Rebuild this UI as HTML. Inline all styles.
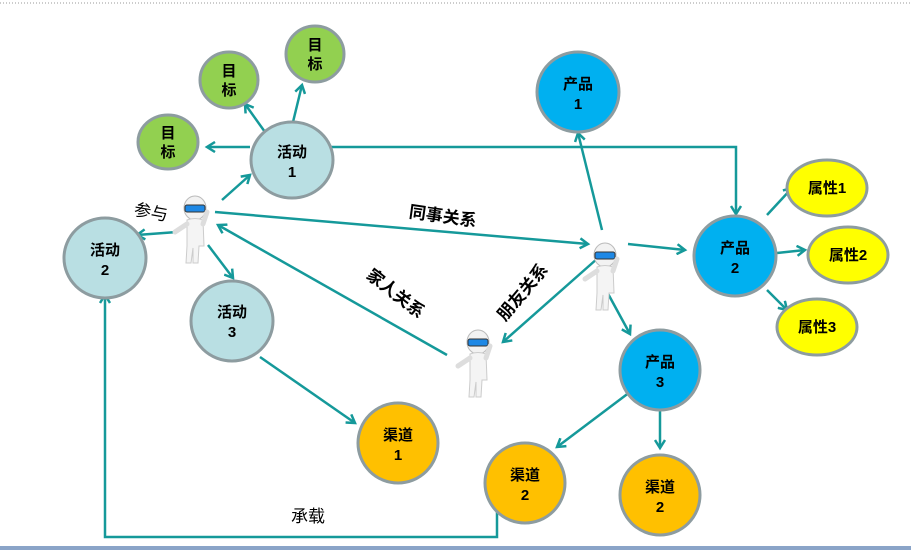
<!DOCTYPE html>
<html><head><meta charset="utf-8"><style>
body{margin:0;background:#fff;}
svg{display:block;font-family:"Liberation Sans","Noto Sans CJK SC",sans-serif;}
</style></head><body>
<svg width="911" height="550" viewBox="0 0 911 550">
<defs>
<marker id="a" markerWidth="12" markerHeight="12" refX="9" refY="6" orient="auto" markerUnits="userSpaceOnUse">
<path d="M1,1 L9,6 L1,11" fill="none" stroke="#15999a" stroke-width="2.5"/>
</marker>
<g id="p">
<ellipse cx="0" cy="0" rx="11" ry="12" fill="#f2f2f2" stroke="#bbb"/>
<rect x="-10" y="-3" width="20" height="7" rx="2" fill="#1e88e5" stroke="#333" stroke-width="1"/>
<path d="M-8,12 Q0,9 8,12 L9,38 L4,38 L3,55 L-2,55 L-2,40 L-4,55 L-9,55 L-8,38 Z" fill="#f4f4f4" stroke="#ccc"/>
<path d="M-8,16 L-20,24 M8,16 L12,4" stroke="#ddd" stroke-width="5" stroke-linecap="round"/>
</g>
</defs>
<line x1="0" y1="3" x2="911" y2="3" stroke="#999" stroke-dasharray="1,2"/>
<rect x="0" y="546" width="911" height="4" fill="#8aa4c8"/>
<g stroke="#15999a" stroke-width="2.5" fill="none" marker-end="url(#a)">
<line x1="250" y1="147" x2="207" y2="147"/>
<line x1="265" y1="132" x2="245" y2="104"/>
<line x1="293" y1="122" x2="302" y2="85"/>
<polyline points="330,147 736,147 736,214"/>
<line x1="222" y1="200" x2="250" y2="175"/>
<line x1="177" y1="232" x2="137" y2="235"/>
<line x1="208" y1="245" x2="233" y2="278"/>
<line x1="215" y1="212" x2="588" y2="244"/>
<line x1="447" y1="355" x2="218" y2="225"/>
<line x1="598" y1="258" x2="503" y2="342"/>
<line x1="602" y1="230" x2="578" y2="133"/>
<line x1="628" y1="244" x2="685" y2="250"/>
<line x1="606" y1="290" x2="630" y2="334"/>
<line x1="767" y1="215" x2="792" y2="188"/>
<line x1="777" y1="253" x2="805" y2="250"/>
<line x1="767" y1="290" x2="787" y2="310"/>
<line x1="260" y1="357" x2="355" y2="423"/>
<line x1="630" y1="392" x2="557" y2="447"/>
<line x1="660" y1="400" x2="660" y2="448"/>
<polyline points="497,505 497,537 105,537 105,295"/>
</g>
<g stroke="#8d9ca0" stroke-width="3">
<ellipse cx="168" cy="142" rx="30" ry="27" fill="#92d050"/>
<ellipse cx="229" cy="80" rx="29" ry="28" fill="#92d050"/>
<ellipse cx="315" cy="54" rx="29" ry="28" fill="#92d050"/>
<ellipse cx="292" cy="160" rx="41" ry="38" fill="#b9dfe3"/>
<ellipse cx="105" cy="258" rx="41" ry="40" fill="#b9dfe3"/>
<ellipse cx="232" cy="321" rx="41" ry="40" fill="#b9dfe3"/>
<ellipse cx="578" cy="92" rx="41" ry="40" fill="#00b0f0"/>
<ellipse cx="735" cy="256" rx="41" ry="40" fill="#00b0f0"/>
<ellipse cx="660" cy="370" rx="40" ry="40" fill="#00b0f0"/>
<ellipse cx="827" cy="188" rx="40" ry="28" fill="#ffff00"/>
<ellipse cx="848" cy="255" rx="40" ry="28" fill="#ffff00"/>
<ellipse cx="817" cy="327" rx="40" ry="28" fill="#ffff00"/>
<ellipse cx="398" cy="443" rx="40" ry="40" fill="#ffc000"/>
<ellipse cx="525" cy="483" rx="40" ry="40" fill="#ffc000"/>
<ellipse cx="660" cy="495" rx="40" ry="40" fill="#ffc000"/>
</g>
<use href="#p" x="195" y="208"/>
<use href="#p" x="605" y="255"/>
<use href="#p" x="478" y="342"/>
<g font-size="15" font-weight="bold" text-anchor="middle" fill="#000">
<text x="168" y="138">目</text><text x="168" y="157">标</text>
<text x="229" y="76">目</text><text x="229" y="95">标</text>
<text x="315" y="50">目</text><text x="315" y="69">标</text>
<text x="292" y="157">活动</text><text x="292" y="177">1</text>
<text x="105" y="255">活动</text><text x="105" y="275">2</text>
<text x="232" y="317">活动</text><text x="232" y="337">3</text>
<text x="578" y="89">产品</text><text x="578" y="109">1</text>
<text x="735" y="253">产品</text><text x="735" y="273">2</text>
<text x="660" y="367">产品</text><text x="660" y="387">3</text>
<text x="827" y="193">属性1</text>
<text x="848" y="260">属性2</text>
<text x="817" y="332">属性3</text>
<text x="398" y="440">渠道</text><text x="398" y="460">1</text>
<text x="525" y="480">渠道</text><text x="525" y="500">2</text>
<text x="660" y="492">渠道</text><text x="660" y="512">2</text>
</g>
<g font-size="17" font-weight="bold" text-anchor="middle">
<text transform="translate(442,222) rotate(8)">同事关系</text>
<text transform="translate(392,298) rotate(38)">家人关系</text>
<text transform="translate(527,296) rotate(-50)">朋友关系</text>
</g>
<text transform="translate(150,218) rotate(10)" font-size="17" text-anchor="middle">参与</text>
<text x="308" y="522" font-size="17" text-anchor="middle">承载</text>
</svg>
</body></html>
